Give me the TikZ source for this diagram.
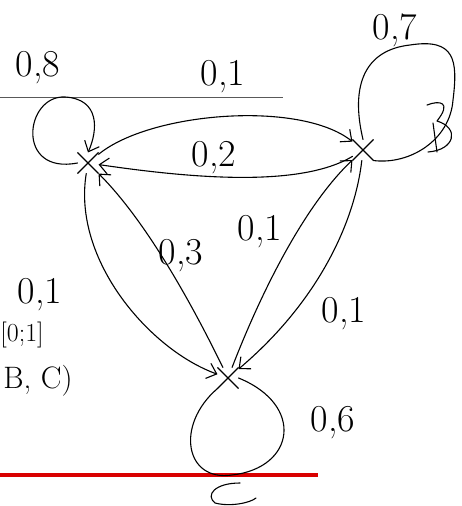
\documentclass[tikz,border=0pt]{standalone}
\usetikzlibrary{arrows.meta,shapes.misc}
\begin{document}
\begin{tikzpicture}[x=1pt,y=-1pt,
  hand/.style={line width=1.1pt,black,line cap=round,line join=round},
  arr/.style={hand,-{Straight Barb[length=9pt,width=16pt,line width=1.1pt]}},
  statex/.style={cross out,draw,line width=1.1pt,minimum size=20pt,inner sep=0pt},
  lbl/.style={font=\fontsize{38}{38}\selectfont,inner sep=0pt},
  small/.style={font=\fontsize{26}{26}\selectfont,inner sep=0pt},
  serif/.style={font=\fontsize{31}{31}\selectfont,inner sep=0pt}]
\useasboundingbox (0,0) rectangle (462,506);
% rules
\draw[line width=1pt,black!65] (0,97) -- (283,97);
\draw[line width=4pt,red!85!black] (0,475) -- (318,475);
% states
\node[statex] (A) at (88,163) {};
\node[statex] (B) at (363,150) {};
\node[statex] (C) at (228,378) {};
% self loops
\draw[arr] (A.west) .. controls (15,175) and (25,95) .. (65,97)
  .. controls (100,99) and (98,130) .. (A.north);
\draw[hand] (B.north) .. controls (350,85) and (365,50) .. (410,45)
  .. controls (455,38) and (458,60) .. (453,100)
  .. controls (450,140) and (410,165) .. (B.south east);
\draw[hand] (C.south west) .. controls (175,425) and (185,482) .. (232,475)
  .. controls (295,468) and (305,405) .. (C.east);
% edges
\draw[arr] (A) .. controls (150,112) and (300,100) .. (B);
\draw[arr] (B) .. controls (300,188) and (190,178) .. (A);
\draw[arr] (A) .. controls (72,260) and (150,350) .. (C);
\draw[arr] (C) .. controls (190,300) and (145,220) .. (A);
\draw[arr] (C) .. controls (262,290) and (305,205) .. (B);
\draw[arr] (B) .. controls (355,220) and (320,300) .. (C);
% letters drawn by hand
\draw[hand] (427,105) .. controls (440,100) and (452,102) .. (437,121)
  .. controls (460,128) and (455,150) .. (428,152);
\draw[hand] (433,123) -- (437,152);
\draw[hand] (240,483) .. controls (215,483) and (205,495) .. (215,503)
  .. controls (230,507) and (250,503) .. (256,498);
% labels
\node[lbl] (l1) at (38,68) {0,8};
\node[lbl] (l2) at (223,77) {0,1};
\node[lbl] (l3) at (395,30) {0,7};
\node[lbl] (l4) at (214,158) {0,2};
\node[lbl] (l5) at (181,256) {0,3};
\node[lbl] (l6) at (260,232) {0,1};
\node[lbl] (l7) at (344,314) {0,1};
\node[lbl] (l8) at (333,423) {0,6};
\node[lbl] (l9) at (40,295) {0,1};
\node[small] (l10) at (22,335) {[0;1]};
\node[serif] (l11) at (38,381) {B, C)};
\end{tikzpicture}
\end{document}
